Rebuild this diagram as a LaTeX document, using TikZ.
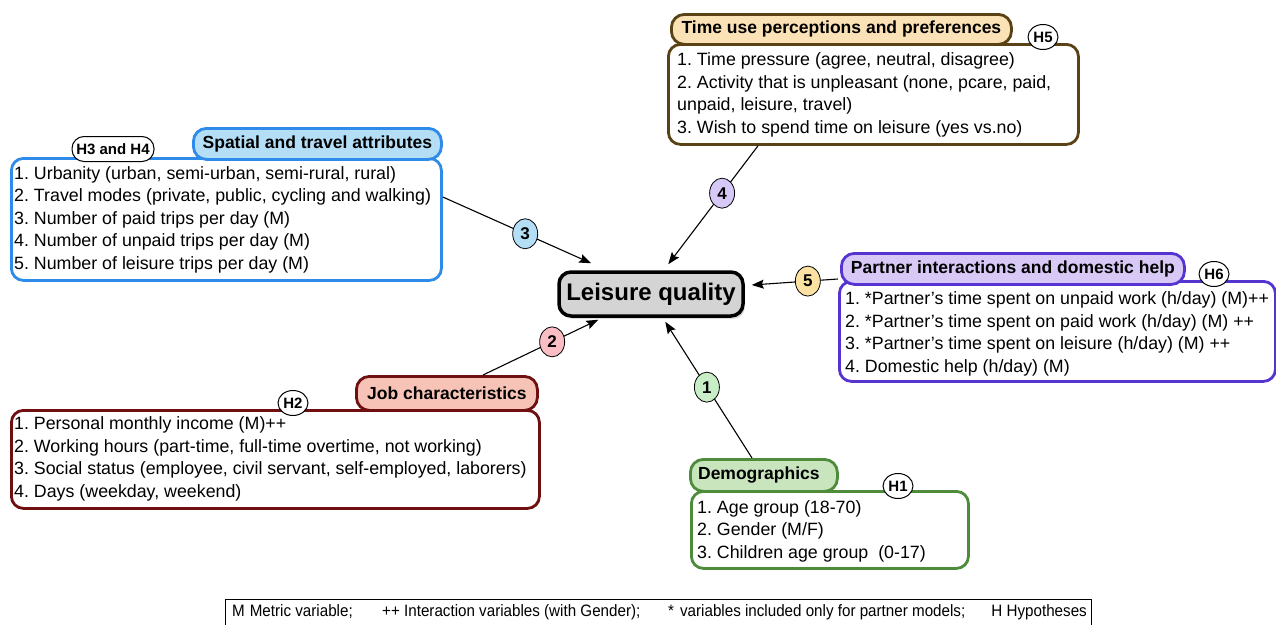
\documentclass[tikz,border=0pt]{standalone}
\usepackage{fontspec}
\setmainfont{Liberation Sans}
\newfontfamily\legendfont[FakeStretch=0.92]{Liberation Sans}
\usetikzlibrary{shapes.geometric,shadows,calc,arrows.meta}
\definecolor{spB}{HTML}{2E8BEA}
\definecolor{spF}{HTML}{B3DEF6}
\definecolor{tuB}{HTML}{5A4217}
\definecolor{tuF}{HTML}{FBE2B6}
\definecolor{paB}{HTML}{5634CF}
\definecolor{paF}{HTML}{D7C8F6}
\definecolor{jbB}{HTML}{6F0F0F}
\definecolor{jbF}{HTML}{F7C3B6}
\definecolor{dmB}{HTML}{4E8B3B}
\definecolor{dmF}{HTML}{C9E5BE}
\definecolor{cOne}{HTML}{C7EEC7}
\definecolor{cTwo}{HTML}{F9BDC3}
\definecolor{cThree}{HTML}{B3DEF6}
\definecolor{cFour}{HTML}{D6C9F7}
\definecolor{cFive}{HTML}{FBE1A2}
\definecolor{lqF}{HTML}{D4D4D4}
\frenchspacing
\begin{document}
\begin{tikzpicture}[x=1pt,y=-1pt,
  mainbox/.style={draw=#1, line width=2.8pt, rounded corners=12pt, fill=white, inner sep=0pt, anchor=north west},
  headbox/.style 2 args={draw=#1, fill=#2, line width=2.8pt, rounded corners=13pt, inner sep=0pt, anchor=north west, font=\bfseries\fontsize{17.5}{20}\selectfont},
  body/.style={anchor=west, align=left, inner sep=0pt, font=\fontsize{17.8}{22.5}\selectfont},
  hyp/.style={draw, fill=white, line width=1pt, ellipse, inner sep=0pt, minimum width=30pt, minimum height=25pt, font=\bfseries\fontsize{15}{15}\selectfont},
  num/.style={draw, fill=#1, line width=0.8pt, ellipse, inner sep=0pt, minimum width=25pt, minimum height=30pt, font=\bfseries\fontsize{17}{17}\selectfont},
  link/.style={line width=1.1pt, -{Stealth[length=12pt,width=9pt,inset=2pt]}},
  legtext/.style={inner sep=0pt, font=\legendfont\fontsize{16.5}{18}\selectfont},
]
\useasboundingbox (0,0) rectangle (1276,624);

% Spatial and travel attributes
\node[mainbox=spB, minimum width=430pt, minimum height=122pt] (spbox) at (10,157) {};
\node[body] (sptext) at (14,219.5) {1. Urbanity (urban, semi-urban, semi-rural, rural)\\2. Travel modes (private, public, cycling and walking)\\3. Number of paid trips per day (M)\\4. Number of unpaid trips per day (M)\\5. Number of leisure trips per day (M)};
\node[headbox={spB}{spF}, minimum width=248pt, minimum height=31pt] (sphead) at (192,127) {Spatial and travel attributes};
\node[draw, fill=white, line width=1pt, rounded corners=12pt, inner sep=0pt, minimum width=82pt, minimum height=25pt, font=\bfseries\fontsize{15}{15}\selectfont] (sphyp) at (113,149) {H3 and H4};

% Time use perceptions and preferences
\node[mainbox=tuB, minimum width=410pt, minimum height=100pt] (tubox) at (667,43) {};
\node[body] (tutext) at (677,95) {1. Time pressure (agree, neutral, disagree)\\2. Activity that is unpleasant (none, pcare, paid,\\unpaid, leisure, travel)\\3. Wish to spend time on leisure (yes vs.no)};
\node[headbox={tuB}{tuF}, minimum width=340pt, minimum height=30pt] (tuhead) at (670,13) {Time use perceptions and preferences};
\node[hyp] (tuhyp) at (1043,37) {H5};

% Partner interactions and domestic help
\node[mainbox=paB, minimum width=436pt, minimum height=100pt] (pabox) at (838,280) {};
\node[body] (patext) at (845,334) {1. *Partner’s time spent on unpaid work (h/day) (M)++\\2. *Partner’s time spent on paid work (h/day) (M) ++\\3. *Partner’s time spent on leisure (h/day) (M) ++\\4. Domestic help (h/day) (M)};
\node[headbox={paB}{paF}, minimum width=343pt, minimum height=31pt] (pahead) at (840,252) {Partner interactions and domestic help};
\node[hyp] (pahyp) at (1214,274) {H6};

% Job characteristics
\node[mainbox=jbB, minimum width=528pt, minimum height=98pt] (jbbox) at (10,409) {};
\node[body] (jbtext) at (14,459) {1. Personal monthly income (M)++\\2. Working hours (part-time, full-time overtime, not working)\\3. Social status (employee, civil servant, self-employed, laborers)\\4. Days (weekday, weekend)};
\node[headbox={jbB}{jbF}, minimum width=181pt, minimum height=34pt] (jbhead) at (355,375) {Job characteristics};
\node[hyp] (jbhyp) at (293,403) {H2};

% Demographics
\node[mainbox=dmB, minimum width=277pt, minimum height=77pt] (dmbox) at (690,490) {};
\node[body] (dmtext) at (697,531) {1. Age group (18-70)\\2. Gender (M/F)\\3. Children age group~ (0-17)};
\node[headbox={dmB}{dmF}, minimum width=147pt, minimum height=32pt] (dmhead) at (689,458) {\hspace*{-10pt}Demographics};
\node[hyp] (dmhyp) at (898,486) {H1};

% Leisure quality
\node[draw=black, fill=lqF, line width=3.5pt, rounded corners=12pt, minimum width=184pt, minimum height=44pt, inner sep=0pt,
  drop shadow={opacity=0.25, shadow xshift=2pt, shadow yshift=-3pt},
  font=\bfseries\fontsize{24}{26}\selectfont] (lq) at (651,294) {Leisure quality};

% connector end points
\coordinate (s3) at ($(spbox.north east)+(0,40)$);
\coordinate (t3) at ($(lq.north west)+(34,-7)$);
\coordinate (s4) at ($(tubox.south west)+(91,0)$);
\coordinate (t4) at ($(lq.north west)+(111,-6)$);
\coordinate (s5) at ($(pabox.north west)+(0,-1)$);
\coordinate (t5) at ($(lq.east)+(7,-9)$);
\coordinate (s2) at ($(jbhead.north west)+(128,0)$);
\coordinate (t2) at ($(lq.south west)+(41,2)$);
\coordinate (s1) at ($(dmhead.north west)+(63,0)$);
\coordinate (t1) at ($(lq.south west)+(108,4)$);

\draw[link] (s3) -- node[num=cThree, pos=0.555] (c3) {3} (t3);
\draw[link] (s4) -- node[num=cFour, pos=0.4] (c4) {4} (t4);
\draw[link] (s5) -- node[num=cFive, pos=0.35] (c5) {5} (t5);
\draw[link] (s2) -- node[num=cTwo, pos=0.6] (c2) {2} (t2);
\draw[link] (s1) -- node[num=cOne, pos=0.52] (c1) {1} (t1);

% legend
\node[draw, line width=0.8pt, inner sep=0pt, minimum width=866pt, minimum height=30pt, anchor=north west] (legend) at (225,599) {};
\node[legtext, anchor=west] (legM) at (232,612) {M\hspace{5pt}Metric variable;};
\node[legtext, anchor=west] (legI) at (382,612) {++ Interaction variables (with Gender);};
\node[legtext, anchor=west] (legS) at (668,612) {*\hspace{6pt}variables included only for partner models;};
\node[legtext, anchor=east] (legH) at (1087,612) {H Hypotheses};
\end{tikzpicture}
\end{document}
